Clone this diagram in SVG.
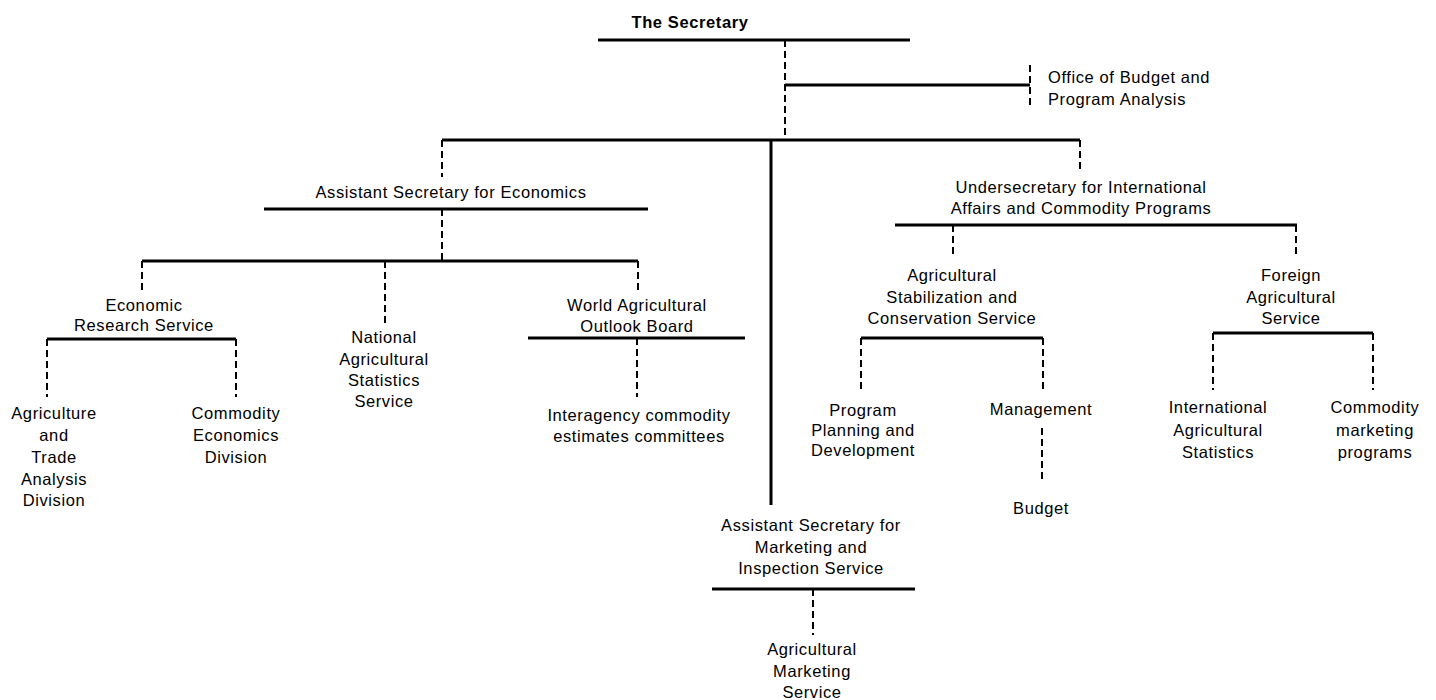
<svg xmlns="http://www.w3.org/2000/svg" width="1436" height="700" viewBox="0 0 1436 700">
<style>
text{font-family:"Liberation Sans",Arial,sans-serif;font-size:16.5px;letter-spacing:0.6px;fill:#000;text-anchor:middle}
.b{font-weight:bold}
.l{text-anchor:start}
.s{stroke:#000;stroke-width:3;fill:none}
.d{stroke:#000;stroke-width:2;fill:none;stroke-dasharray:7 4}
</style>
<rect width="1436" height="700" fill="#fff"/>
<g id="connectors">
<path class="s" d="M598 40H910"/>
<path class="d" d="M785 40V140"/>
<path class="s" d="M785 85H1030"/>
<path class="d" d="M1030 65V108"/>
<path class="s" d="M442 140H1080"/>
<path class="d" d="M442 140V177"/>
<path class="s" d="M264 209H648"/>
<path class="d" d="M442 209V261"/>
<path class="s" d="M142 261H638"/>
<path class="d" d="M142 261V293"/>
<path class="d" d="M385 261V325"/>
<path class="d" d="M638 261V293"/>
<path class="s" d="M47 339H236"/>
<path class="d" d="M47 339V397M236 339V397"/>
<path class="s" d="M528 338H745"/>
<path class="d" d="M637 338V397"/>
<path class="s" d="M771 140V505"/>
<path class="s" d="M712 589H915"/>
<path class="d" d="M813 589V635"/>
<path class="d" d="M1080 140V173"/>
<path class="s" d="M895 225H1297"/>
<path class="d" d="M953 225V258M1296 225V258"/>
<path class="s" d="M861 338H1043"/>
<path class="d" d="M861 338V390M1043 338V390"/>
<path class="d" d="M1042 428V483"/>
<path class="s" d="M1213 333H1373"/>
<path class="d" d="M1213 333V390M1373 333V390"/>
</g>
<g id="secretary"><text class="b" x="690" y="28">The Secretary</text></g>
<g id="obpa"><text class="l" x="1048" y="83">Office of Budget and</text><text class="l" x="1048" y="105">Program Analysis</text></g>
<g id="ase"><text x="451" y="198">Assistant Secretary for Economics</text></g>
<g id="ers"><text x="144" y="311">Economic</text><text x="144" y="331">Research Service</text></g>
<g id="atad"><text x="54" y="419">Agriculture</text><text x="54" y="441">and</text><text x="54" y="463">Trade</text><text x="54" y="485">Analysis</text><text x="54" y="506">Division</text></g>
<g id="ced"><text x="236" y="419">Commodity</text><text x="236" y="441">Economics</text><text x="236" y="463">Division</text></g>
<g id="nass"><text x="384" y="343">National</text><text x="384" y="365">Agricultural</text><text x="384" y="386">Statistics</text><text x="384" y="407">Service</text></g>
<g id="waob"><text x="637" y="311">World Agricultural</text><text x="637" y="332">Outlook Board</text></g>
<g id="icec"><text x="639" y="421">Interagency commodity</text><text x="639" y="442">estimates committees</text></g>
<g id="asmis"><text x="811" y="531">Assistant Secretary for</text><text x="811" y="553">Marketing and</text><text x="811" y="574">Inspection Service</text></g>
<g id="ams"><text x="812" y="655">Agricultural</text><text x="812" y="677">Marketing</text><text x="812" y="698">Service</text></g>
<g id="uiacp"><text x="1081" y="193">Undersecretary for International</text><text x="1081" y="214">Affairs and Commodity Programs</text></g>
<g id="ascs"><text x="952" y="281">Agricultural</text><text x="952" y="303">Stabilization and</text><text x="952" y="324">Conservation Service</text></g>
<g id="ppd"><text x="863" y="416">Program</text><text x="863" y="436">Planning and</text><text x="863" y="456">Development</text></g>
<g id="mgmt"><text x="1041" y="415">Management</text></g>
<g id="budget"><text x="1041" y="514">Budget</text></g>
<g id="fas"><text x="1291" y="281">Foreign</text><text x="1291" y="303">Agricultural</text><text x="1291" y="324">Service</text></g>
<g id="ias"><text x="1218" y="413">International</text><text x="1218" y="436">Agricultural</text><text x="1218" y="458">Statistics</text></g>
<g id="cmp"><text x="1375" y="413">Commodity</text><text x="1375" y="436">marketing</text><text x="1375" y="458">programs</text></g>
</svg>
